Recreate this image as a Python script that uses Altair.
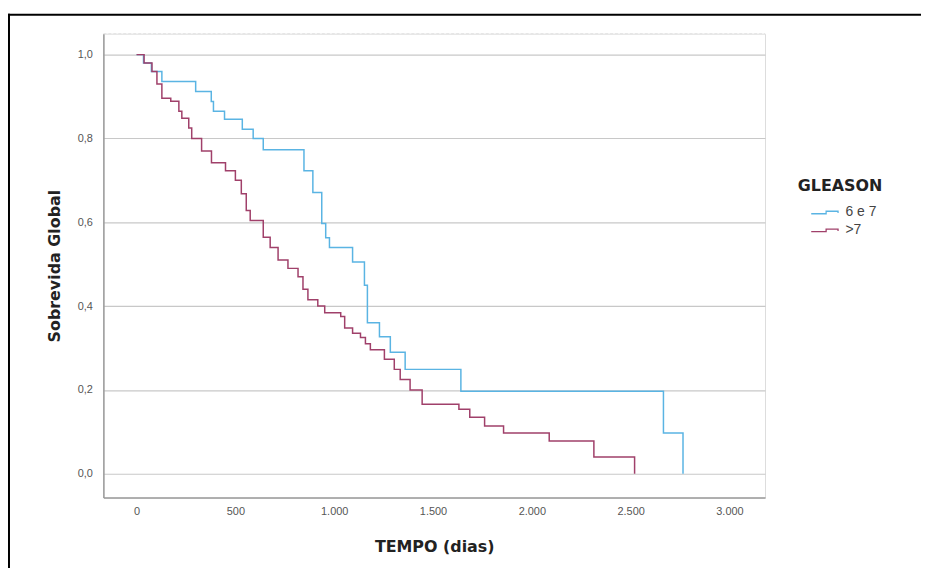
import altair as alt
import pandas as pd

# ---- data (Kaplan-Meier steps) ----
group_names = ["6 e 7", ">7"]
group_colors = ["#5AB4E3", "#A0406A"]

t_low = [0, 35, 75, 128, 299, 378, 389, 445, 535, 590, 641, 847, 892, 937, 957,
         976, 1093, 1153, 1168, 1229, 1284, 1359, 1641, 2666, 2765]
s_low = [1.0, 0.98, 0.96, 0.936, 0.912, 0.888, 0.865, 0.846, 0.822, 0.80, 0.773,
         0.723, 0.671, 0.597, 0.563, 0.540, 0.505, 0.45, 0.36, 0.327, 0.29, 0.249,
         0.197, 0.097, 0.0]

t_high = [0, 38, 78, 103, 128, 173, 214, 229, 264, 279, 329, 379, 450, 500, 530,
          555, 575, 641, 676, 716, 766, 817, 842, 867, 917, 952, 1033, 1053, 1093,
          1133, 1158, 1183, 1254, 1304, 1334, 1384, 1445, 1631, 1686, 1761, 1857,
          2088, 2314, 2520]
s_high = [1.0, 0.98, 0.96, 0.93, 0.896, 0.889, 0.865, 0.848, 0.825, 0.80, 0.77,
          0.742, 0.723, 0.70, 0.668, 0.628, 0.604, 0.564, 0.54, 0.51, 0.49, 0.47,
          0.44, 0.415, 0.40, 0.384, 0.375, 0.348, 0.335, 0.325, 0.31, 0.296, 0.273,
          0.249, 0.225, 0.20, 0.166, 0.154, 0.135, 0.114, 0.097, 0.078, 0.04, 0.0]

x_ticks = [0, 500, 1000, 1500, 2000, 2500, 3000]
y_ticks = [0.0, 0.2, 0.4, 0.6, 0.8, 1.0]

df = pd.concat([
    pd.DataFrame({"tempo": t_low, "surv": s_low, "grupo": group_names[0]}),
    pd.DataFrame({"tempo": t_high, "surv": s_high, "grupo": group_names[1]}),
])

W, H = 666, 467
FONT_T = "DejaVu Sans"
FONT_L = "Liberation Sans"

x_enc = alt.X(
    "tempo:Q",
    scale=alt.Scale(domain=[-168, 3180], nice=False, zero=False),
    axis=alt.Axis(
        values=x_ticks, grid=False, ticks=False, tickSize=0,
        labelExpr="replace(format(datum.value, ','), ',', '.')",
        labelFont=FONT_L, labelFontSize=11, labelColor="#555555", labelPadding=8,
        domainColor="#9a9a9a", domainWidth=1.5,
        title="TEMPO (dias)", titleFont=FONT_T, titleFontSize=16, titleFontWeight="bold",
        titleColor="#222222", titleX=333, titleY=49, titleBaseline="middle",
        titleAlign="center",
    ),
)
y_enc = alt.Y(
    "surv:Q",
    scale=alt.Scale(domain=[-0.057, 1.05], nice=False, zero=False),
    axis=alt.Axis(
        values=y_ticks, grid=True, gridColor="#c8c8c8", gridWidth=1.2,
        ticks=False, tickSize=0,
        labelExpr="replace(format(datum.value, '.1f'), '.', ',')",
        labelFont=FONT_L, labelFontSize=11, labelColor="#555555", labelPadding=11,
        domainColor="#9a9a9a", domainWidth=1.5,
        title="Sobrevida Global", titleFont=FONT_T, titleFontSize=16,
        titleFontWeight="bold", titleColor="#222222", titleAngle=-90,
        titleX=-49, titleY=233.5, titleBaseline="middle", titleAlign="center",
    ),
)

# step-shaped legend icon, ~27 px wide with a 10 px symbol unit
step_icon = "M-2.7,0.25H0.3V-0.25H2.7V0.1"

lines = alt.Chart(df).mark_line(interpolate="step-after", strokeWidth=1.5).encode(
    x=x_enc,
    y=y_enc,
    color=alt.Color(
        "grupo:N",
        scale=alt.Scale(domain=group_names, range=group_colors),
        legend=alt.Legend(
            title="GLEASON", orient="none", legendX=699, legendY=145,
            titleFont=FONT_T, titleFontSize=16, titleFontWeight="bold",
            titleColor="#222222", titlePadding=12, padding=0,
            symbolType=step_icon, symbolSize=100, symbolStrokeWidth=1.3,
            symbolOffset=20, labelFont=FONT_L, labelFontSize=14,
            labelColor="#444444", labelOffset=14, rowPadding=4,
        ),
    ),
)

one = pd.DataFrame({"k": [0]})

top_faint = alt.Chart(one).mark_rule(color="#e4e4e4", strokeWidth=1, strokeDash=[3, 2]).encode(
    x=alt.value(0), x2=alt.value(W), y=alt.value(0)
)
border_top = alt.Chart(one).mark_rule(color="#000000", strokeWidth=2).encode(
    x=alt.value(-96), x2=alt.value(830), y=alt.value(-19)
)
border_left = alt.Chart(one).mark_rule(color="#000000", strokeWidth=2).encode(
    x=alt.value(-95), y=alt.value(-20), y2=alt.value(560)
)

chart = alt.layer(top_faint, lines, border_top, border_left).properties(
    width=W, height=H,
    autosize=alt.AutoSizeParams(type="none"),
    padding={"left": 96, "top": 24, "right": 157, "bottom": 69},
).configure_view(stroke=None).configure(background="white")

chart.save("out.html", embed_options={"renderer": "svg", "actions": False})
